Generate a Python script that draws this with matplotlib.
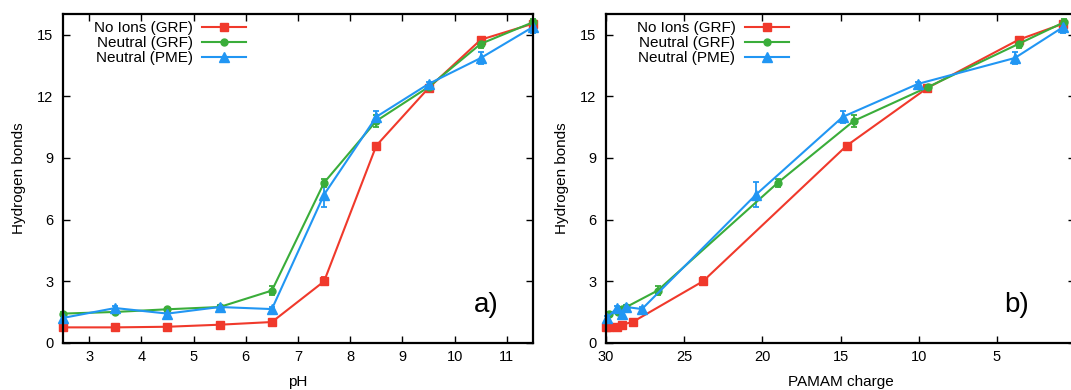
import matplotlib
matplotlib.use("Agg")
import matplotlib.pyplot as plt

plt.rcParams['font.family'] = ['Liberation Sans', 'DejaVu Sans']

###########################################################
# data
###########################################################
ph = [2.5, 3.5, 4.5, 5.5, 6.5, 7.5, 8.5, 9.5, 10.5, 11.5]

# PAMAM charge for each pH point, one set per simulation
charge_noions = [30.0, 29.8, 29.3, 29.0, 28.3, 23.8, 14.6, 9.45, 3.6, 0.75]
charge_grf    = [29.8, 29.25, 29.0, 28.7, 26.7, 19.0, 14.15, 9.4, 3.6, 0.7]
charge_pme    = [29.95, 29.3, 29.0, 28.7, 27.7, 20.4, 14.85, 10.05, 3.85, 0.75]

hb_noions = [0.76, 0.76, 0.79, 0.89, 1.02, 3.0, 9.6, 12.4, 14.75, 15.53]
hb_grf    = [1.43, 1.51, 1.64, 1.75, 2.55, 7.8, 10.8, 12.45, 14.55, 15.6]
hb_pme    = [1.22, 1.70, 1.43, 1.75, 1.65, 7.22, 11.0, 12.6, 13.86, 15.37]

err_noions = [0.05, 0.05, 0.05, 0.05, 0.05, 0.2, 0.1, 0.1, 0.1, 0.1]
err_grf    = [0.08, 0.08, 0.08, 0.08, 0.2, 0.2, 0.3, 0.1, 0.2, 0.15]
err_pme    = [0.08, 0.1, 0.08, 0.08, 0.08, 0.6, 0.3, 0.1, 0.3, 0.3]

labels = ["No Ions (GRF)", "Neutral (GRF)", "Neutral (PME)"]
colors = ["#f0392b", "#3aad3a", "#2196f3"]
markers = ["s", "o", "^"]
msizes = [5.5, 5, 6.5]

y_ticks = [0, 3, 6, 9, 12, 15]

###########################################################
# layout (pixels of a 1071x390 canvas)
###########################################################
W, H = 1071, 390
fig = plt.figure(figsize=(W / 100, H / 100), dpi=100)

def px_axes(x0, x1, y0, y1):
    return fig.add_axes([x0 / W, 1 - y1 / H, (x1 - x0) / W, (y1 - y0) / H])

ax_a = px_axes(63, 533, 14, 343)
ax_b = px_axes(606, 1075, 14, 343)


def style_axes(ax, handles, xlabel, tag, tag_x):
    ax.set_ylim(0, 16)
    ax.set_yticks(y_ticks)
    ax.set_ylabel("Hydrogen bonds", fontsize=11, labelpad=8)
    ax.set_xlabel(xlabel, fontsize=11, labelpad=8)
    ax.tick_params(direction="in", top=True, right=True, length=5,
                   width=1, labelsize=10.5)
    ax.tick_params(axis="y", pad=7)
    ax.tick_params(axis="x", pad=5)
    for sp in ax.spines.values():
        sp.set_linewidth(1.6)
    ax.text(tag_x, 0.115, tag, transform=ax.transAxes, fontsize=20,
            ha="center", va="center")
    ax.legend(handles, labels, loc="upper right", bbox_to_anchor=(0.39, 0.978),
              markerfirst=False, frameon=False, fontsize=11,
              handlelength=2.9, handletextpad=0.6, labelspacing=0.07,
              borderpad=0, borderaxespad=0)


def draw(ax, xs):
    ys = [hb_noions, hb_grf, hb_pme]
    es = [err_noions, err_grf, err_pme]
    handles = []
    for x, y, e, c, m, ms in zip(xs, ys, es, colors, markers, msizes):
        cont = ax.errorbar(x, y, yerr=e, color=c, marker=m, markersize=ms,
                           linewidth=1.5, elinewidth=1.3, capsize=2.5,
                           capthick=1.3, clip_on=False)
        handles.append(cont.lines[0])
    return handles


# a) versus pH
h = draw(ax_a, [ph, ph, ph])
ax_a.set_xlim(2.5, 11.5)
ax_a.set_xticks(range(3, 12))
style_axes(ax_a, h, "pH", "a)", 0.9)

# b) versus PAMAM charge
h = draw(ax_b, [charge_noions, charge_grf, charge_pme])
ax_b.set_xlim(30, 0)
ax_b.set_xticks([30, 25, 20, 15, 10, 5])
style_axes(ax_b, h, "PAMAM charge", "b)", 0.876)

fig.savefig("out.png", dpi=100)
